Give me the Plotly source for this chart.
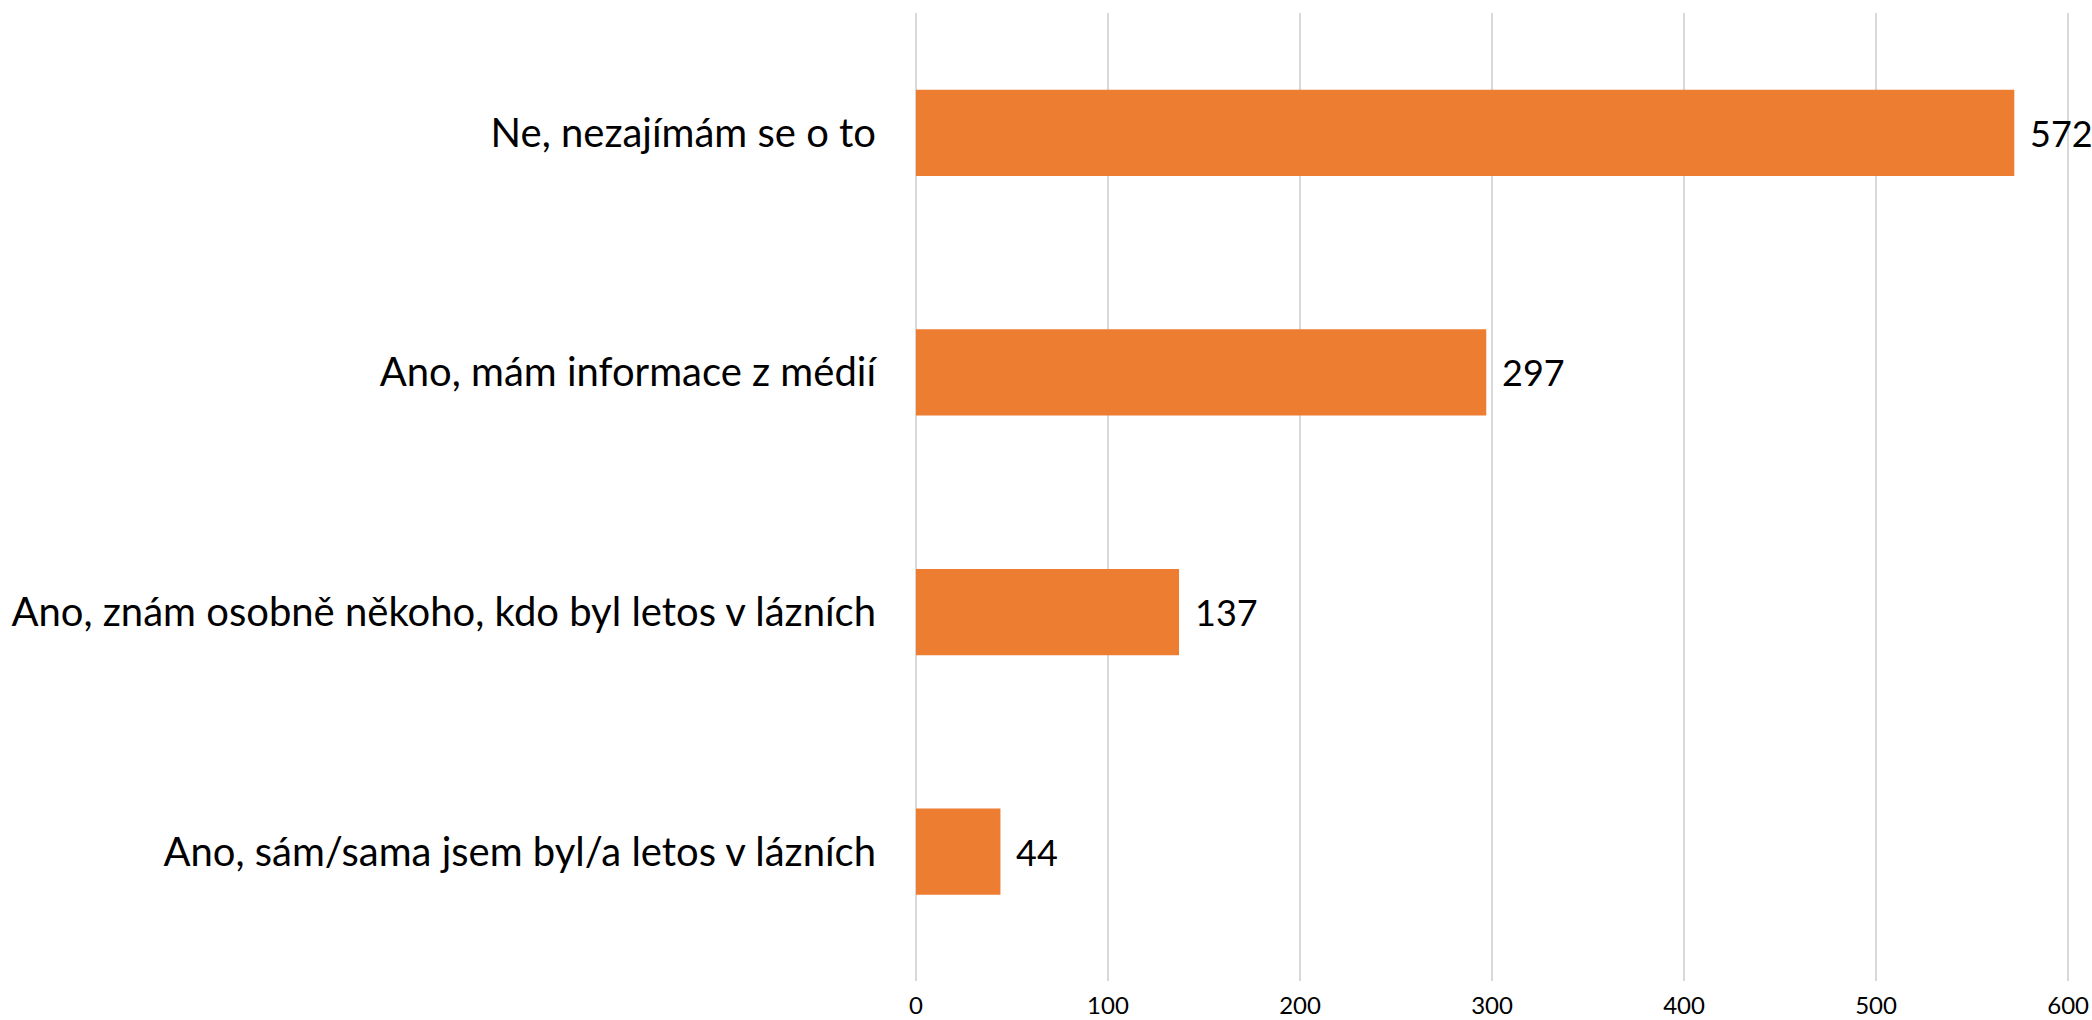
import plotly.graph_objects as go

categories = [
    "Ne, nezajímám se o to",
    "Ano, mám informace z médií",
    "Ano, znám osobně někoho, kdo byl letos v lázních",
    "Ano, sám/sama jsem byl/a letos v lázních",
]
values = [572, 297, 137, 44]
x_ticks = [0, 100, 200, 300, 400, 500, 600]

FONT = "Lato"
BAR_COLOR = "#ED7D31"

fig = go.Figure()
fig.add_trace(go.Bar(
    y=categories,
    x=values,
    orientation="h",
    marker=dict(color=BAR_COLOR, line=dict(width=0)),
    hoverinfo="x+y",
))

for c, v in zip(categories, values):
    fig.add_annotation(
        x=v, y=c, text=str(v), showarrow=False,
        xanchor="left", yanchor="middle", xshift=14,
        font=dict(family=FONT, size=36, color="#000000"),
    )

fig.update_layout(
    width=2092, height=1020,
    margin=dict(l=915, r=22, t=13, b=39, autoexpand=False),
    paper_bgcolor="white", plot_bgcolor="white",
    bargap=0.64,
    showlegend=False,
    font=dict(family=FONT, color="#000000"),
)
fig.update_xaxes(
    range=[-0.5, 601], tickvals=x_ticks, ticktext=[str(t) for t in x_ticks],
    showgrid=True, gridcolor="#d9d9d9", gridwidth=2,
    zeroline=True, zerolinecolor="#d9d9d9", zerolinewidth=2,
    showline=False, ticks="", ticklabelstandoff=8, automargin=False,
    tickfont=dict(family=FONT, size=24, color="#000000"),
)
fig.update_yaxes(
    range=[3.54, -0.5], showgrid=False, zeroline=False, showline=False,
    ticks="", ticklabelstandoff=38, automargin=False,
    tickfont=dict(family=FONT, size=40, color="#000000"),
)

fig.write_html(
    "out.html",
    config={"displayModeBar": False},
    post_script="document.body.style.margin='0';document.body.style.overflow='hidden';",
)
